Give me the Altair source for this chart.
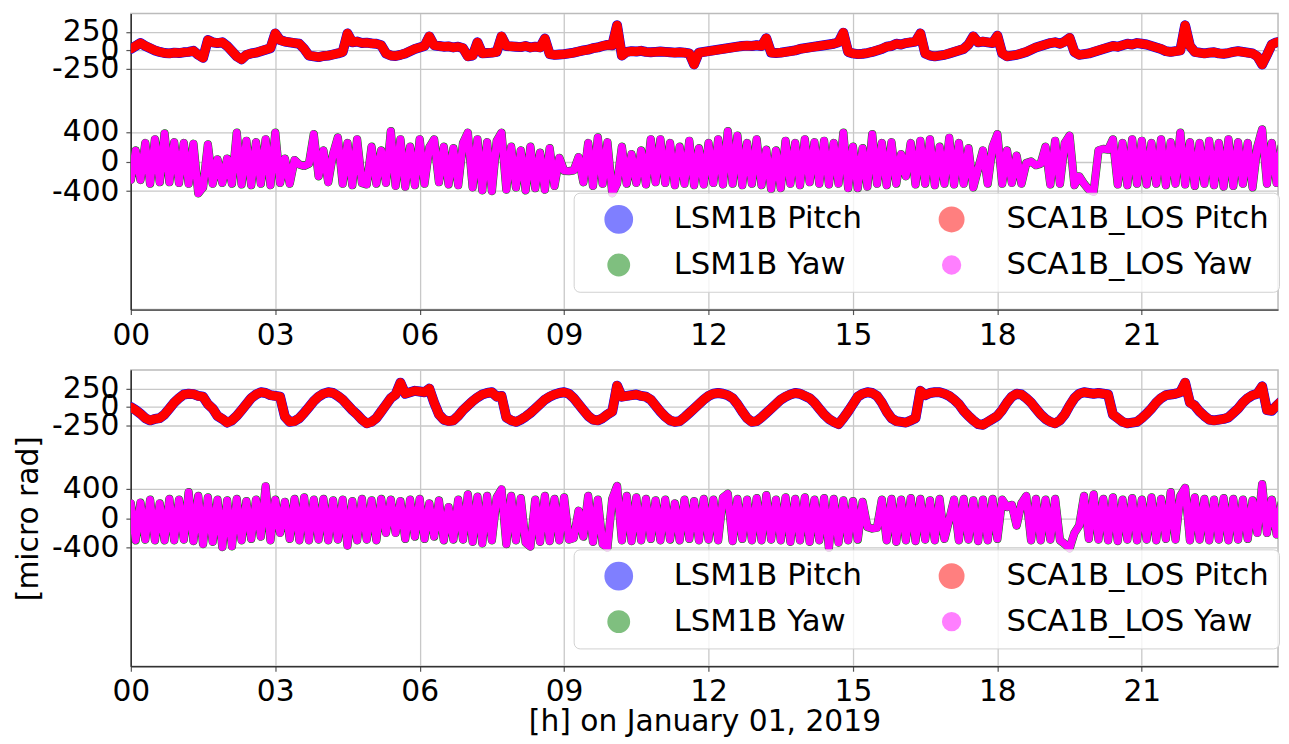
import altair as alt
import pandas as pd

# sample times in hours (0.1 h spacing)
hours = [round(i * 0.1, 1) for i in range(240)]

# ---- top panel (micro rad) ----
top_pitch = [
    20, 60, 100, 60, 30, 0, -20, -35, -40, -30,
    -35, -25, -20, -5, -60, -100, 140, 110, 100, 110,
    60, -10, -80, -120, -60, -40, -30, -10, 10, 30,
    230, 140, 120, 110, 100, 90, 20, -70, -80, -90,
    -75, -70, -55, -40, -20, 230, 110, 120, 100, 105,
    95, 90, 70, -40, -70, -75, -60, -40, -10, 20,
    40, 60, 190, 70, 60, 50, 55, 40, 50, 30,
    -80, -70, 110, -40, -35, -30, -20, 190, 60, 55,
    50, 45, 60, 40, 50, 40, 160, -50, -60, -55,
    -50, -40, -30, -15, 0, 10, 30, 40, 60, 75,
    70, 340, -70, -20, -10, -15, -5, -20, -25, -20,
    -15, -20, -25, -30, -25, -30, -40, -190, -30, -20,
    -10, 0, 10, 20, 30, 40, 50, 60, 65, 60,
    70, 60, 165, -30, -35, -30, -20, -10, 0, 20,
    30, 40, 50, 60, 70, 80, 90, 110, 240, -20,
    -40, -50, -45, -35, -20, 0, 20, 50, 60, 90,
    80, 100, 110, 120, 230, -40, -70, -80, -70, -60,
    -40, -20, 0, 20, 80, 190, 110, 120, 110, 100,
    200, -40, -80, -70, -60, -40, -20, 10, 40, 60,
    80, 100, 110, 90, 120, 170, -20, -60, -50, -40,
    -20, 0, 20, 40, 60, 50, 70, 90, 80, 100,
    90, 80, 60, 40, 20, -10, -20, -10, 0, 340,
    60, -20, -30, -40, -30, -25, -40, -45, -35, -20,
    -10, -20, -30, -40, -80, -190, -60, 80, 110, 120,
]
top_yaw = [
    -250, 150, -250, 250, -300, 300, -280, 380, -280, 260,
    -290, 250, -300, 240, -430, -350, 230, -300, 30, -290,
    40, -300, 390, -310, 280, -320, 260, -300, 300, -320,
    390, -290, 40, -300, 20, -40, -60, -30, 370, -200,
    150, -280, 100, 325, -300, 250, -320, 300, -290, -310,
    200, -300, 150, -290, 410, -330, 300, -340, 200, -320,
    300, -300, 190, 300, -280, 200, -310, 180, -320, 250,
    390, -350, 300, -390, 260, -400, 280, 390, -380, 200,
    -350, 150, -390, 200, -360, 120, -380, 180, -330, 50,
    -125, -130, -120, 60, -280, 250, -330, 325, -300, 260,
    -430, -300, 200, -300, 100, -290, 150, -310, 300, -280,
    300, -290, 250, -320, 200, -300, 280, -320, 180, -310,
    250, -290, 300, -310, 410, -300, 350, -320, 250, -300,
    300, -320, 160, -370, 150, -360, 280, -300, 250, -320,
    300, -280, 260, -300, 280, -310, 250, -300, 390, -360,
    200, -360, 180, -340, 370, -300, 250, -320, 260, -300,
    100, -200, 250, -310, 280, -300, 300, -320, 200, -300,
    320, -310, 250, -300, 180, -350, -100, 150, -300, 200,
    370, -300, 150, -290, 80, -300, -20, 0, -50, -30,
    200, -310, 280, -300, 250, 350, -320, -200, -300, -380,
    -410, 150, 170, 160, 300, -310, 250, -320, 300, -300,
    280, -310, 250, -300, 300, -320, 260, -300, 390, -310,
    260, -330, 250, -300, 280, -320, 250, -340, 300, -330,
    260, -300, 250, -350, 200, 435, -300, 250, -290, 200,
]

# ---- bottom panel ----
bottom_pitch = [
    0, -40, -90, -150, -180, -160, -150, -100, -20, 60,
    120, 170, 180, 175, 150, 140, 40, -20, -120, -160,
    -210, -180, -120, -40, 40, 120, 170, 200, 190, 160,
    150, 140, -130, -200, -190, -150, -80, 0, 80, 140,
    180, 200, 190, 150, 100, 30, -40, -100, -170, -220,
    -200, -150, -60, 30, 120, 170, 330, 180, 200, 220,
    210, 200, 250, 60, -100, -170, -190, -180, -120, -40,
    20, 80, 130, 170, 190, 200, 140, 150, -140, -180,
    -200, -170, -130, -80, -20, 40, 100, 140, 170, 190,
    200, 180, 120, 40, -40, -120, -170, -180, -150, -100,
    -60, 290, 140, 150, 160, 170, 150, 140, 100, 20,
    -60, -130, -180, -200, -190, -140, -80, -20, 40, 100,
    150, 180, 190, 180, 160, 120, 40, -60, -150, -200,
    -190, -140, -80, -20, 40, 100, 140, 170, 190, 180,
    150, 120, 60, -20, -100, -160, -200, -230, -150, -60,
    40, 140, 180, 200, 190, 150, 60, -60, -150, -190,
    -200, -210, -180, -150, 220, 160, 190, 200, 200, 180,
    150, 100, 40, -50, -120, -180, -230, -240, -200, -160,
    -120, -40, 60, 140, 180, 170, 120, 60, -20, -100,
    -160, -200, -220, -180, -100, 20, 120, 180, 200, 190,
    180, 190, 180, 170, -100, -150, -200, -220, -210, -200,
    -150, -90, -20, 60, 120, 160, 170, 180, 200, 330,
    60, 20, -60, -120, -170, -180, -170, -160, -140, -80,
    -20, 60, 120, 160, 180, 280, -40, -50, 20, 80,
]
bottom_yaw = [
    200, -300, 210, -290, 250, -300, 200, -300, 260, -300,
    250, -290, 350, -310, 300, -350, 280, -320, 250, -390,
    240, -380, 260, -300, 230, -280, 250, -250, 430, -300,
    250, -200, 220, -280, 260, -300, 280, -300, 250, -290,
    260, -300, 240, -290, 250, -370, 230, -300, 260, -290,
    240, -300, 260, -200, 250, -200, 230, -280, 250, -250,
    260, -280, 200, -250, 240, -300, 150, -290, 250, -290,
    320, -320, 290, -340, 300, -300, 280, 390, -350, 300,
    -300, 270, -330, -385, 250, -320, 300, -310, 260, -300,
    280, -290, -270, 100, -250, 300, -320, 250, -350, -400,
    260, 435, -300, 300, -310, 280, -300, 260, -280, 240,
    -300, 250, -290, 200, -300, 250, -280, 230, -300, 260,
    -290, 250, -300, 280, 330, -310, 260, -280, 250, -300,
    270, -300, 310, -290, 250, -300, 280, -320, 260, -300,
    280, -320, 250, -300, 270, -400, 260, -330, 240, -300,
    230, -290, 220, -120, -140, -130, 250, -300, 260, -320,
    250, -300, 270, -310, 260, -290, 240, -300, 260, -280,
    -20, 250, -300, 260, -290, 240, -310, 250, -300, 260,
    -280, 250, 150, 180, -100, 200, 300, -300, 260, -300,
    250, -290, 260, -300, -350, -410, -200, -100, 300, -280,
    320, -290, 260, -300, 280, -310, 250, -290, 270, -300,
    250, -290, 280, -300, 260, -280, 350, -290, 300, 410,
    -300, 280, -290, 260, -300, 250, -290, 270, -300, 260,
    -290, 250, -280, 240, -200, 460, -200, 250, -220, 200,
]

series_names = ["LSM1B Pitch", "SCA1B_LOS Pitch", "LSM1B Yaw", "SCA1B_LOS Yaw"]
series_colors = ["#0000ff", "#ff0000", "#008000", "#ff00ff"]
legend_sizes = [361, 144, 361, 144]
line_widths = [10, 7.5, 11, 9]
x_ticks = [0, 3, 6, 9, 12, 15, 18, 21]
pitch_ticks = [-250, 0, 250]
yaw_ticks = [-400, 0, 400]
x_title = "[h] on January 01, 2019"
y_title = "[micro rad]"

FONT = "DejaVu Sans"
W, H = 1158, 299
ASCII_MINUS = "replace(datum.label, '\u2212', '-')"

color_scale = alt.Scale(domain=series_names, range=series_colors)
size_scale = alt.Scale(domain=series_names, range=legend_sizes)
width_scale = alt.Scale(domain=series_names, range=line_widths)


def frame(values, name):
    return pd.DataFrame({"h": hours, "value": values, "series": name})


def make_legend():
    return alt.Legend(
        title=None, orient="none", legendX=447, legendY=181, columns=2,
        direction="horizontal",
        labelFont=FONT, labelFontSize=31, labelColor="black", labelLimit=500,
        symbolType="circle", symbolOpacity=0.5, symbolStrokeWidth=0,
        symbolOffset=20, labelOffset=40, columnPadding=54, rowPadding=12,
        clipHeight=34,
        padding=10, fillColor="rgba(255,255,255,0.8)", strokeColor="#d0d0d0",
        cornerRadius=6,
    )


def panel(pitch_vals, yaw_vals, bottom):
    x_axis = alt.Axis(
        values=x_ticks, format="02d", title=x_title if bottom else None,
        grid=True, labelFlush=False, labelOverlap=False, labelPadding=6,
        titleY=56, titleBaseline="middle",
    )
    x = alt.X("h:Q", scale=alt.Scale(domain=[0, 23.83], nice=False, zero=False),
              axis=x_axis)
    pitch_axis = alt.Axis(values=pitch_ticks, orient="left", title=None, grid=True,
                          labelOverlap=False, labelFlush=False, labelPadding=7,
                          labelExpr=ASCII_MINUS)
    yaw_axis = alt.Axis(values=yaw_ticks, orient="left",
                        title=y_title if bottom else None, grid=True,
                        labelOverlap=False, labelFlush=False, labelPadding=7,
                        labelExpr=ASCII_MINUS,
                        titleX=-103, titleY=H / 2, titleAngle=270,
                        titleBaseline="middle", titleAlign="center")
    py = alt.Y("value:Q", scale=alt.Scale(domain=[-3500, 500], nice=False, zero=False),
               axis=pitch_axis)
    yy = alt.Y("value:Q", scale=alt.Scale(domain=[-2000, 2000], nice=False, zero=False),
               axis=yaw_axis)

    def line(values, name, y):
        return alt.Chart(frame(values, name)).mark_line(
            clip=True, strokeCap="round", strokeJoin="round"
        ).encode(
            x=x, y=y,
            color=alt.Color("series:N", scale=color_scale, legend=None),
            strokeWidth=alt.StrokeWidth("series:N", scale=width_scale, legend=None),
        )

    lg = make_legend()
    # legend key: circle marks carry the legend (no points drawn)
    key = alt.Chart(frame(pitch_vals, "LSM1B Pitch")).transform_filter("false").mark_circle(
        opacity=0.5
    ).encode(
        x=x, y=py,
        color=alt.Color("series:N", scale=color_scale, legend=lg),
        size=alt.Size("series:N", scale=size_scale, legend=lg),
    )

    pitch_layer = alt.layer(
        key,
        line(pitch_vals, "LSM1B Pitch", py),
        line(pitch_vals, "SCA1B_LOS Pitch", py),
    )
    yaw_layer = alt.layer(
        line(yaw_vals, "LSM1B Yaw", yy),
        line(yaw_vals, "SCA1B_LOS Yaw", yy),
    )
    return alt.layer(pitch_layer, yaw_layer).resolve_scale(y="independent").properties(
        width=W, height=H
    )


chart = alt.vconcat(
    panel(top_pitch, top_yaw, False),
    panel(bottom_pitch, bottom_yaw, True),
    spacing=61,
).resolve_scale(
    color="independent", size="independent", strokeWidth="independent"
).properties(
    bounds="flush",
    padding={"left": 5, "top": 1, "right": 0, "bottom": 0},
    background="white",
).configure_axis(
    labelFont=FONT, labelFontSize=30, labelColor="black",
    titleFont=FONT, titleFontSize=30, titleFontWeight="normal", titleColor="black",
    tickColor="#555555", tickSize=5, tickWidth=1.2,
    domainColor="#333333", domainWidth=1.3,
    gridColor="#c8c8c8", gridWidth=1.3,
).configure_view(
    stroke="#bbbbbb", strokeWidth=1.5,
)

chart.save("out.html", embed_options={"renderer": "svg", "actions": False})
